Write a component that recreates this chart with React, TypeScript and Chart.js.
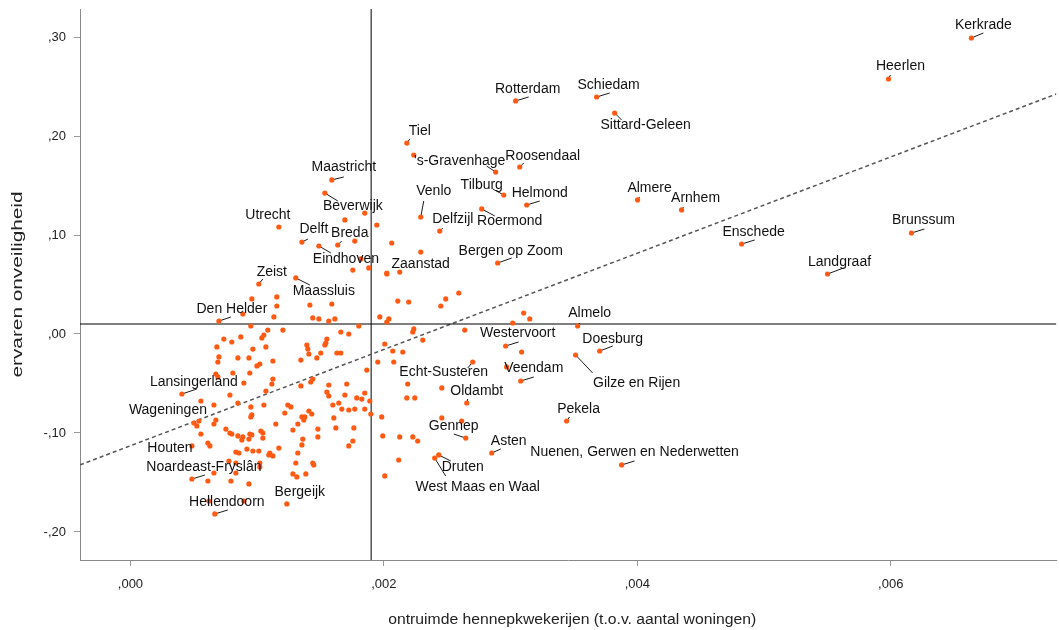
import React, { useEffect, useRef } from 'react';
import { Chart, registerables } from 'chart.js';

Chart.register(...registerables);

// Labelled municipalities
const municipalities = [
  'Kerkrade', 'Heerlen', 'Rotterdam', 'Schiedam', 'Sittard-Geleen', 'Tiel', "'s-Gravenhage", 'Roosendaal',
  'Maastricht', 'Beverwijk', 'Tilburg', 'Helmond', 'Roermond', 'Almere', 'Arnhem', 'Venlo', 'Delfzijl',
  'Utrecht', 'Delft', 'Breda', 'Eindhoven', 'Enschede', 'Brunssum', 'Landgraaf', 'Bergen op Zoom',
  'Zaanstad', 'Zeist', 'Maassluis', 'Den Helder', 'Almelo', 'Westervoort', 'Doesburg', 'Gilze en Rijen',
  'Echt-Susteren', 'Veendam', 'Lansingerland', 'Oldambt', 'Wageningen', 'Pekela', 'Gennep', 'Houten',
  'Asten', 'Druten', 'West Maas en Waal', 'Nuenen, Gerwen en Nederwetten', 'Noardeast-Fryslân',
  'Bergeijk', 'Hellendoorn',
];
const municipalityX = [
  0.006636, 0.005982, 0.003040, 0.003679, 0.003821, 0.002181, 0.002882, 0.003072,
  0.001589, 0.001534, 0.002946, 0.003127, 0.002772, 0.004002, 0.004349, 0.002291, 0.002441,
  0.001171, 0.001353, 0.001636, 0.001487, 0.004823, 0.006163, 0.005501, 0.002898,
  0.002125, 0.001013, 0.001305, 0.000698, 0.003529, 0.002961, 0.003703, 0.003513,
  0.002701, 0.003080, 0.000406, 0.002654, 0.000501, 0.003442, 0.002646, 0.000485,
  0.002851, 0.002433, 0.002401, 0.003876, 0.000485,
  0.001234, 0.000666,
];
const municipalityY = [
  0.2990, 0.2576, 0.2354, 0.2394, 0.2232, 0.1929, 0.1636, 0.1687,
  0.1556, 0.1424, 0.1404, 0.1303, 0.1263, 0.1354, 0.1253, 0.1182, 0.1040,
  0.1081, 0.0929, 0.0899, 0.0889, 0.0909, 0.1020, 0.0606, 0.0717,
  0.0626, 0.0505, 0.0566, 0.0131, 0.0081, -0.0121, -0.0172, -0.0212,
  -0.0283, -0.0475, -0.0606, -0.0697, -0.0899, -0.0879, -0.1051, -0.1131,
  -0.1202, -0.1222, -0.1253, -0.1323, -0.1465,
  -0.1717, -0.1818,
];

// Unlabelled municipalities
const otherX = [
  0.000958, 0.001155, 0.001155, 0.000887, 0.001132, 0.000950, 0.001084, 0.001053, 0.001037, 0.000737,
  0.000871, 0.000800, 0.000682, 0.000966, 0.001069, 0.000698, 0.000848, 0.000935, 0.000690, 0.001021,
  0.000998, 0.001124, 0.000808, 0.000942, 0.000674, 0.000690, 0.001124, 0.000895, 0.001116, 0.000785,
  0.001069, 0.000556, 0.000848, 0.000659, 0.001053, 0.000950, 0.000524, 0.000540, 0.000674, 0.000659,
  0.000958, 0.000950, 0.000753, 0.000785, 0.000800, 0.000848, 0.000887, 0.000879, 0.000942, 0.000958,
  0.000935, 0.001029, 0.001045, 0.001045, 0.001147, 0.000556, 0.000611, 0.000627, 0.000832, 0.000856,
  0.000919, 0.000966, 0.001013, 0.001100, 0.001124, 0.001092, 0.001171, 0.000777, 0.000832, 0.000832,
  0.001021, 0.001021, 0.000659, 0.000611, 0.000793, 0.000935, 0.001849, 0.001692, 0.001944, 0.001770,
  0.002062, 0.002291, 0.001818, 0.001881, 0.001755, 0.002023, 0.001416, 0.001589, 0.001439, 0.001487,
  0.001565, 0.001613, 0.001968, 0.002023, 0.002039, 0.001802, 0.002110, 0.002196, 0.002449, 0.002488,
  0.002591, 0.001203, 0.001660, 0.001723, 0.002236, 0.002228, 0.002638, 0.001550, 0.002236, 0.001392,
  0.001400, 0.001542, 0.001534, 0.001408, 0.001502, 0.001471, 0.001629, 0.001660, 0.001345, 0.002007,
  0.002307, 0.002070, 0.002149, 0.001952, 0.002078, 0.001865, 0.001439, 0.001423, 0.001345, 0.001565,
  0.001707, 0.001550, 0.001565, 0.001692, 0.001849, 0.001786, 0.001826, 0.001889, 0.001597, 0.001644,
  0.001668, 0.001723, 0.001770, 0.001849, 0.001897, 0.001242, 0.001266, 0.001218, 0.001408, 0.001431,
  0.001353, 0.001376, 0.001368, 0.001321, 0.001282, 0.001605, 0.001621, 0.001479, 0.001479, 0.001763,
  0.001360, 0.001353, 0.001755, 0.001723, 0.001321, 0.001305, 0.001439, 0.001447, 0.001282, 0.001313,
  0.001384, 0.001983, 0.001991, 0.002125, 0.002228, 0.002267, 0.002117, 0.002007, 0.002188, 0.002181,
  0.002244, 0.002457, 0.002457, 0.002614, 0.003103, 0.003151, 0.003017, 0.003087, 0.002969, 0.000619,
  0.000895, 0.002023,
];
const otherY = [
  0.0354, 0.0374, 0.0283, 0.0202, 0.0172, 0.0081, 0.0040, -0.0010, -0.0040, -0.0051,
  -0.0030, -0.0081, -0.0131, -0.0152, -0.0131, -0.0232, -0.0242, -0.0242, -0.0283, -0.0303,
  -0.0323, -0.0273, -0.0394, -0.0394, -0.0404, -0.0434, -0.0455, -0.0495, -0.0505, -0.0616,
  -0.0576, -0.0677, -0.0697, -0.0717, -0.0717, -0.0737, -0.0929, -0.0879, -0.0869, -0.0909,
  -0.0818, -0.0838, -0.0960, -0.1000, -0.1010, -0.1030, -0.1040, -0.1071, -0.1010, -0.1020,
  -0.1061, -0.0980, -0.1000, -0.1051, -0.0909, -0.1010, -0.1101, -0.1131, -0.1192, -0.1202,
  -0.1162, -0.1182, -0.1182, -0.1202, -0.1232, -0.1222, -0.1152, -0.1283, -0.1303, -0.1404,
  -0.1303, -0.1343, -0.1404, -0.1485, -0.1485, -0.1515, 0.1222, 0.1152, 0.1101, 0.0939,
  0.0919, 0.0828, 0.0758, 0.0667, 0.0646, 0.0616, 0.0293, 0.0303, 0.0162, 0.0152,
  0.0131, 0.0152, 0.0172, 0.0121, 0.0152, 0.0081, 0.0333, 0.0323, 0.0283, 0.0354,
  0.0414, 0.0040, 0.0020, 0.0000, 0.0051, 0.0020, 0.0040, -0.0051, 0.1808, -0.0111,
  -0.0152, -0.0091, -0.0111, -0.0202, -0.0192, -0.0242, -0.0192, -0.0192, -0.0263, -0.0101,
  -0.0061, -0.0172, -0.0182, -0.0283, -0.0283, -0.0364, -0.0455, -0.0485, -0.0525, -0.0515,
  -0.0505, -0.0586, -0.0626, -0.0616, -0.0596, -0.0646, -0.0657, -0.0677, -0.0717, -0.0697,
  -0.0758, -0.0768, -0.0758, -0.0758, -0.0808, -0.0717, -0.0737, -0.0798, -0.0778, -0.0808,
  -0.0838, -0.0838, -0.0869, -0.0909, -0.0970, -0.0848, -0.0949, -0.0960, -0.1040, -0.0949,
  -0.1061, -0.1121, -0.1081, -0.1131, -0.1202, -0.1303, -0.1303, -0.1323, -0.1414, -0.1444,
  -0.1414, -0.0838, -0.1030, -0.1040, -0.1040, -0.1081, -0.1273, -0.1434, -0.0505, -0.0646,
  -0.0646, -0.0545, -0.0848, -0.0879, 0.0212, 0.0152, 0.0111, -0.0182, -0.0333, -0.1687,
  -0.1687, 0.0606,
];

const xTicks = [0, 0.002, 0.004, 0.006];
const xTickLabels = [',000', ',002', ',004', ',006'];
const yTicks = [-0.2, -0.1, 0, 0.1, 0.2, 0.3];
const yTickLabels = ['-,20', '-,10', ',00', ',10', ',20', ',30'];
const xRange = [-0.000398, 0.007307];
const yRange = [-0.2283, 0.3283];
const meanX = 0.0019;
const meanY = 0.0101;
const fitIntercept = -0.1129;
const fitSlope = 48.63;

const xTitle = 'ontruimde hennepkwekerijen (t.o.v. aantal woningen)';
const yTitle = 'ervaren onveiligheid';

// label placement in px: [text dx, text dy, leader dx, leader dy]
const labelPlacement: Record<string, number[]> = {
  'Kerkrade': [12, -13, 12, -5],
  'Heerlen': [12, -13, 2, -4],
  'Rotterdam': [12, -12, 13, -4],
  'Schiedam': [12, -12, 13, -4],
  'Sittard-Geleen': [31, 12, 7, 7],
  'Tiel': [13, -12, 3, -4],
  "'s-Gravenhage": [-36, -11, -9, -6],
  'Roosendaal': [23, -11, 4, -4],
  'Maastricht': [12, -13, 12, -3],
  'Beverwijk': [28, 13, 13, 8],
  'Tilburg': [-22, -10, -11, -6],
  'Helmond': [13, -12, 13, -4],
  'Roermond': [28, 12, 13, 7],
  'Almere': [12, -12, 2, -3],
  'Arnhem': [14, -12, 2, -3],
  'Venlo': [13, -26, 3, -16],
  'Delfzijl': [13, -12, 3, -3],
  'Utrecht': [-11, -12, 0, 0],
  'Delft': [12, -13, 6, -3],
  'Breda': [12, -12, 4, -4],
  'Eindhoven': [27, 13, 12, 7],
  'Enschede': [12, -12, 13, -4],
  'Brunssum': [12, -13, 13, -4],
  'Landgraaf': [12, -12, 16, -6],
  'Bergen op Zoom': [13, -12, 14, -5],
  'Zaanstad': [21, -8, 0, 0],
  'Zeist': [13, -12, 4, -5],
  'Maassluis': [28, 13, 14, 7],
  'Den Helder': [13, -12, 12, -4],
  'Almelo': [12, -13, 2, -3],
  'Westervoort': [12, -13, 13, -4],
  'Doesburg': [13, -12, 13, -5],
  'Gilze en Rijen': [61, 28, 17, 18],
  'Echt-Susteren': [-29, 10, -5, 6],
  'Veendam': [13, -13, 13, -4],
  'Lansingerland': [12, -12, 15, -5],
  'Oldambt': [10, -12, 1, -4],
  'Wageningen': [-26, -13, 0, 0],
  'Pekela': [12, -12, 3, -4],
  'Gennep': [-12, -12, -12, -4],
  'Houten': [-22, 2, 0, 0],
  'Asten': [17, -12, 9, -4],
  'Druten': [24, 12, 12, 6],
  'West Maas en Waal': [43, 29, 11, 18],
  'Nuenen, Gerwen en Nederwetten': [13, -13, 13, -4],
  'Noardeast-Fryslân': [12, -12, 13, -4],
  'Bergeijk': [13, -12, 0, 0],
  'Hellendoorn': [12, -12, 13, -4],
};

const FONT = '"Liberation Sans", Arial, Helvetica, sans-serif';
const POINT_COLOR = '#ff5a14';

const leaderPlugin = {
  id: 'leaders',
  beforeDatasetsDraw(chart: any) {
    const { ctx, scales } = chart;
    ctx.save();
    ctx.strokeStyle = '#1a1a1a';
    ctx.lineWidth = 1;
    municipalities.forEach((name, i) => {
      const p = labelPlacement[name] || [12, -12, 12, -4];
      if (!p[2] && !p[3]) return;
      const px = scales.x.getPixelForValue(municipalityX[i]);
      const py = scales.y.getPixelForValue(municipalityY[i]);
      ctx.beginPath();
      ctx.moveTo(px, py);
      ctx.lineTo(px + p[2], py + p[3]);
      ctx.stroke();
    });
    ctx.restore();
  },
  afterDatasetsDraw(chart: any) {
    const { ctx, scales } = chart;
    ctx.save();
    ctx.font = `14px ${FONT}`;
    ctx.textAlign = 'center';
    ctx.textBaseline = 'middle';
    ctx.fillStyle = '#111';
    municipalities.forEach((name, i) => {
      const p = labelPlacement[name] || [12, -12, 12, -4];
      const px = scales.x.getPixelForValue(municipalityX[i]);
      const py = scales.y.getPixelForValue(municipalityY[i]);
      ctx.fillText(name, px + p[0], py + p[1]);
    });
    ctx.restore();
  },
  afterDraw(chart: any) {
    const { ctx, chartArea } = chart;
    ctx.save();
    ctx.font = `14px ${FONT}`;
    ctx.textAlign = 'center';
    ctx.textBaseline = 'middle';
    ctx.fillStyle = '#222';
    // x title (stretched to the reference's length)
    const wx = ctx.measureText(xTitle).width;
    ctx.save();
    ctx.translate((chartArea.left + chartArea.right) / 2 + 4, 620);
    ctx.scale(368 / wx, 1);
    ctx.fillText(xTitle, 0, 0);
    ctx.restore();
    // y title
    const wy = ctx.measureText(yTitle).width;
    ctx.save();
    ctx.translate(18, (chartArea.top + chartArea.bottom) / 2);
    ctx.rotate(-Math.PI / 2);
    ctx.scale(186 / wy, 1);
    ctx.fillText(yTitle, 0, 0);
    ctx.restore();
    ctx.restore();
  },
};

export default function App() {
  const canvasRef = useRef<HTMLCanvasElement | null>(null);

  useEffect(() => {
    document.body.style.margin = '0';
    const canvas = canvasRef.current;
    if (!canvas) return;

    const labelled = municipalityX.map((x, i) => ({ x, y: municipalityY[i] }));
    const others = otherX.map((x, i) => ({ x, y: otherY[i] }));
    const fitLine = xRange.map((x) => ({ x, y: fitIntercept + fitSlope * x }));
    const hLine = xRange.map((x) => ({ x, y: meanY }));
    const vLine = yRange.map((y) => ({ x: meanX, y }));

    const pointStyle = {
      pointRadius: 2.6,
      pointHoverRadius: 2.6,
      backgroundColor: POINT_COLOR,
      borderWidth: 0,
      showLine: false,
    };

    const chart = new Chart(canvas, {
      type: 'scatter',
      data: {
        datasets: [
          { data: labelled, ...pointStyle },
          { data: others, ...pointStyle },
          { data: hLine, showLine: true, borderColor: '#000', borderWidth: 1.2, pointRadius: 0 },
          { data: vLine, showLine: true, borderColor: '#555', borderWidth: 1.5, pointRadius: 0 },
          { data: fitLine, showLine: true, borderColor: '#555', borderWidth: 1.5, borderDash: [4, 3], pointRadius: 0 },
        ],
      },
      options: {
        responsive: false,
        animation: false,
        devicePixelRatio: 1,
        layout: { padding: { top: 9, right: 2, left: 0, bottom: 0 } },
        plugins: { legend: { display: false }, tooltip: { enabled: false } },
        events: [],
        scales: {
          x: {
            type: 'linear',
            min: xRange[0],
            max: xRange[1],
            afterBuildTicks: (s: any) => { s.ticks = xTicks.map((v) => ({ value: v })); },
            afterFit: (s: any) => { s.height = 70; s.paddingLeft = 0; s.paddingRight = 0; },
            ticks: {
              callback: (v: any) => xTickLabels[xTicks.indexOf(v)] ?? '',
              font: { family: FONT, size: 13 },
              color: '#222',
              padding: 11,
              maxRotation: 0,
            },
            grid: { drawOnChartArea: false, drawTicks: true, tickLength: 6, color: '#999' },
            border: { display: true, color: '#888', width: 1 },
            title: { display: false },
          },
          y: {
            type: 'linear',
            min: yRange[0],
            max: yRange[1],
            afterBuildTicks: (s: any) => { s.ticks = yTicks.map((v) => ({ value: v })); },
            afterFit: (s: any) => { s.width = 80; s.paddingTop = 0; s.paddingBottom = 0; },
            ticks: {
              callback: (v: any) => yTickLabels[yTicks.indexOf(v)] ?? '',
              font: { family: FONT, size: 13 },
              color: '#222',
              padding: 8,
            },
            grid: { drawOnChartArea: false, drawTicks: true, tickLength: 6, color: '#999' },
            border: { display: true, color: '#888', width: 1 },
            title: { display: false },
          },
        },
      },
      plugins: [leaderPlugin],
    } as any);

    return () => chart.destroy();
  }, []);

  return (
    <div style={{ width: 1059, height: 630, position: 'relative', background: '#fff' }}>
      <canvas ref={canvasRef} width={1059} height={630} style={{ display: 'block' }} />
    </div>
  );
}
